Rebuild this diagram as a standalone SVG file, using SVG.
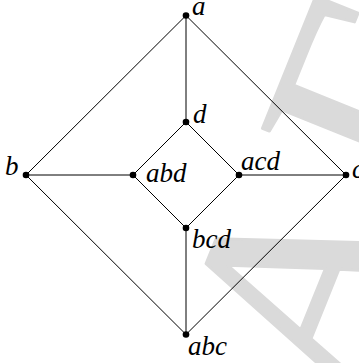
<svg xmlns="http://www.w3.org/2000/svg" width="359" height="363" viewBox="0 0 359 363">
  <style>
    .edge { stroke: #000; stroke-width: 1; fill: none; }
    .dot { fill: #000; }
    .lbl { font-family: "Liberation Serif", "Times New Roman", serif; font-style: italic; font-size: 27px; fill: #000; }
    .wm { font-family: "Liberation Serif", "Times New Roman", serif; font-size: 290px; letter-spacing: 18px; font-kerning: none;
          fill: #dadada; stroke: #dadada; stroke-width: 3; stroke-linejoin: round; }
  </style>
  <rect width="359" height="363" fill="#fff"/>
  <!-- background watermark -->
  <text class="wm" transform="translate(185.8,824.9) rotate(-68)">DRAFT</text>
  <g id="connectors">
    <line class="edge" x1="186" y1="15.5" x2="26" y2="175"/>
    <line class="edge" x1="186" y1="15.5" x2="346" y2="175"/>
    <line class="edge" x1="186" y1="15.5" x2="186" y2="122"/>
    <line class="edge" x1="26" y1="175" x2="186" y2="334.5"/>
    <line class="edge" x1="346" y1="175" x2="186" y2="334.5"/>
    <line class="edge" x1="26" y1="175" x2="133" y2="175"/>
    <line class="edge" x1="346" y1="175" x2="239" y2="175"/>
    <line class="edge" x1="186" y1="122" x2="133" y2="175"/>
    <line class="edge" x1="186" y1="122" x2="239" y2="175"/>
    <line class="edge" x1="133" y1="175" x2="186" y2="228"/>
    <line class="edge" x1="239" y1="175" x2="186" y2="228"/>
    <line class="edge" x1="186" y1="228" x2="186" y2="334.5"/>
  </g>
  <g id="node-a"><circle class="dot" cx="186" cy="15.5" r="3.3"/><text class="lbl" x="192" y="15">a</text></g>
  <g id="node-b"><circle class="dot" cx="26" cy="175" r="3.3"/><text class="lbl" x="5" y="175">b</text></g>
  <g id="node-c"><circle class="dot" cx="346" cy="175" r="3.3"/><text class="lbl" x="352" y="178">c</text></g>
  <g id="node-d"><circle class="dot" cx="186" cy="122" r="3.3"/><text class="lbl" x="193" y="122.5">d</text></g>
  <g id="node-abd"><circle class="dot" cx="133" cy="175" r="3.3"/><text class="lbl" x="146" y="182">abd</text></g>
  <g id="node-acd"><circle class="dot" cx="239" cy="175" r="3.3"/><text class="lbl" x="241" y="170">acd</text></g>
  <g id="node-bcd"><circle class="dot" cx="186" cy="228" r="3.3"/><text class="lbl" x="192" y="248">bcd</text></g>
  <g id="node-abc"><circle class="dot" cx="186" cy="334.5" r="3.3"/><text class="lbl" x="188" y="355">abc</text></g>
</svg>
